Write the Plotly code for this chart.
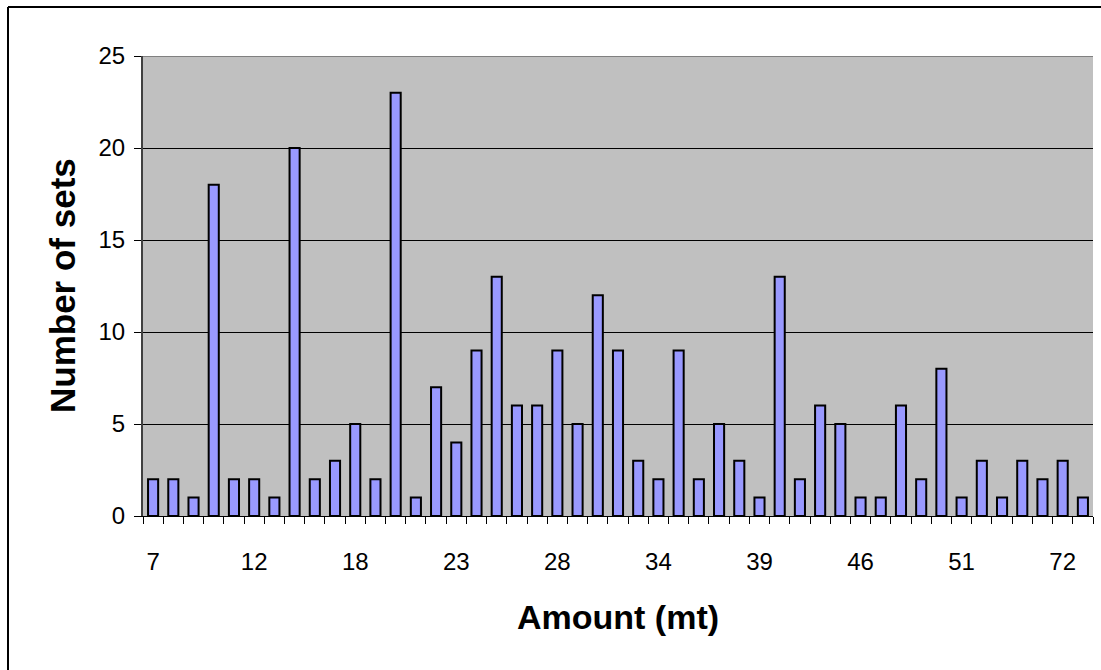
import plotly.graph_objects as go

# Category labels (only every 5th is shown on the axis)
amounts = ["7", "8", "9", "10", "11", "12", "14", "15", "16", "17",
           "18", "19", "20", "21", "22", "23", "24", "25", "26", "27",
           "28", "29", "30", "31", "32", "34", "35", "36", "37", "38",
           "39", "40", "41", "42", "45", "46", "47", "48", "49", "50",
           "51", "53", "55", "60", "65", "72", "80"]
num_sets = [2, 2, 1, 18, 2, 2, 1, 20, 2, 3,
            5, 2, 23, 1, 7, 4, 9, 13, 6, 6,
            9, 5, 12, 9, 3, 2, 9, 2, 5, 3,
            1, 13, 2, 6, 5, 1, 1, 6, 2, 8,
            1, 3, 1, 3, 2, 3, 1]
shown_labels = ["7", "12", "18", "23", "28", "34", "39", "46", "51", "72"]
y_ticks = [0, 5, 10, 15, 20, 25]

W, H = 1101, 670
L, R, T, B = 143, 8, 56, 154
pw, ph = W - L - R, H - T - B

ticktext = [a if a in shown_labels else "" for a in amounts]

fig = go.Figure()
fig.add_trace(go.Bar(
    x=amounts, y=num_sets,
    marker=dict(color="#9999FF", line=dict(color="black", width=2)),
))

font = "Liberation Sans, Arial, sans-serif"
fig.update_layout(
    width=W, height=H,
    margin=dict(l=L, r=R, t=T, b=B),
    paper_bgcolor="white", plot_bgcolor="#C0C0C0",
    bargap=0.5, showlegend=False,
    font=dict(family=font, size=24, color="black"),
    xaxis=dict(
        type="category", tickmode="array", tickvals=amounts, ticktext=ticktext,
        tickson="boundaries", ticks="outside", ticklen=7, tickcolor="black",
        tickangle=0,
        showgrid=False, showline=True, linecolor="black", linewidth=1,
        tickfont=dict(size=24), ticklabelstandoff=24, zeroline=False,
        range=[-0.5, len(amounts) - 0.5],
    ),
    yaxis=dict(
        range=[0, 25], tickmode="array", tickvals=y_ticks,
        ticks="outside", ticklen=7, tickcolor="black",
        showgrid=True, gridcolor="black", gridwidth=1,
        showline=True, linecolor="#404040", linewidth=2,
        zeroline=False, tickfont=dict(size=24), ticklabelstandoff=4,
    ),
    annotations=[
        dict(text="<b>Number of sets</b>", x=(62 - L) / pw, y=0.5,
             xref="paper", yref="paper", textangle=-90, showarrow=False,
             xanchor="center", yanchor="middle", font=dict(size=35)),
        dict(text="<b>Amount (mt)</b>", x=0.5, y=(516 - 617) / ph,
             xref="paper", yref="paper", showarrow=False,
             xanchor="center", yanchor="middle", font=dict(size=34)),
    ],
    shapes=[
        # gray top line of plot area
        dict(type="line", xref="paper", yref="y", x0=0, x1=1, y0=25, y1=25,
             line=dict(color="#808080", width=2)),
        # outer frame (top and left edges)
        dict(type="line", xref="paper", yref="paper",
             x0=(8 - L) / pw, x1=(W - L) / pw, y0=(516 - 7) / ph, y1=(516 - 7) / ph,
             line=dict(color="black", width=2)),
        dict(type="line", xref="paper", yref="paper",
             x0=(8 - L) / pw, x1=(8 - L) / pw, y0=(516 - 7) / ph, y1=(516 - H) / ph,
             line=dict(color="black", width=2)),
    ],
)

fig.write_html("out.html", config={"displayModeBar": False},
               post_script="document.body.style.margin='0';")
